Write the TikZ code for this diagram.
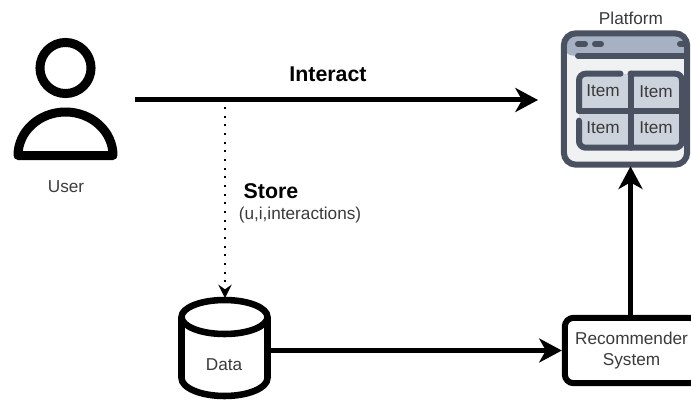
\documentclass[tikz,border=0pt]{standalone}
\usepackage{fontspec}
\setmainfont{Liberation Sans}
\usetikzlibrary{calc,arrows.meta}

\definecolor{iconline}{HTML}{4A5160}
\definecolor{iconbar}{HTML}{A6B1C4}
\definecolor{iconbody}{HTML}{F0F1F2}
\definecolor{iconcell}{HTML}{CDD3DD}
\definecolor{textgrey}{HTML}{3A3A3A}

\tikzset{
  caption/.style={text=textgrey,font=\fontsize{12.9}{15.8}\selectfont,align=center,inner sep=0pt},
  boldcaption/.style={text=black,font=\fontsize{16}{18}\selectfont\bfseries,inner sep=0pt},
  flow/.style={line width=3.75pt,-{Stealth[length=17pt,width=18pt,inset=5pt]}},
  iconstroke/.style={iconline,line width=4.5pt,line cap=round},
  userstroke/.style={black,line width=6.75pt,line join=round},
  datastroke/.style={black,line width=4.9pt}
}

\begin{document}
\begin{tikzpicture}[x=0.75pt,y=-0.75pt]
\useasboundingbox (0,0) rectangle (691,399);

\coordinate (UC) at (65.5,155.5);
\coordinate (PC) at (630.5,110.7);
\coordinate (DC) at (224.5,317);

% user
\node[circle,userstroke,draw,minimum size=38.3pt,inner sep=0pt] (head) at (65.5,68) {};
\draw[userstroke] ($(UC)+(-47.5,0)$) arc[start angle=180,end angle=360,x radius=47.5,y radius=43.5] -- cycle;
\node[caption] (user) at (66,187) {User};

% platform
\node[caption] (title) at (631,18) {Platform};
\fill[iconbody,rounded corners=9pt] (563,32) rectangle (688,166);
\fill[iconbar,rounded corners=7pt] (564,55.7) -- (564,33) -- (687,33) -- (687,55.7) -- cycle;
\node[rectangle,rounded corners=9pt,draw=iconline,line width=4.5pt,minimum width=92.5pt,minimum height=98.5pt,inner sep=0pt] (platform) at (625.5,99) {};

\draw[iconstroke] (578,55.7) -- (687,55.7);
\draw[iconstroke] (578,44) -- (585,44);
\draw[iconstroke] (595,44) -- (601,44);
\draw[iconstroke] (680,44) -- (686,44);

\fill[iconcell] ($(PC)+(-51.5,-37)$) rectangle ($(PC)+(51.5,37)$);
\draw[iconstroke,rounded corners=5pt] ($(PC)+(-10,-37)$) -- ($(PC)+(-51.5,-37)$) -- ($(PC)+(-51.5,0)$);
\draw[iconstroke,rounded corners=5pt] ($(PC)+(-51.5,10)$) -- ($(PC)+(-51.5,37)$) -- ($(PC)+(51.5,37)$) -- ($(PC)+(51.5,-37)$) -- ($(PC)+(0,-37)$);
\draw[iconstroke] ($(PC)+(-51.5,0)$) -- ($(PC)+(51.5,0)$);
\draw[iconstroke] ($(PC)+(0,-37)$) -- ($(PC)+(0,37)$);

\node[caption] (item1) at (603,91) {Item};
\node[caption] (item2) at (656,92) {Item};
\node[caption] (item3) at (603,128) {Item};
\node[caption] (item4) at (656,128) {Item};

% data and recommender
\node[rectangle,minimum width=69.75pt,minimum height=77pt,inner sep=0pt] (data) at (224.5,347) {};
\draw[datastroke] (DC) ellipse[x radius=43,y radius=17];
\draw[datastroke] ($(DC)+(-43,0)$) -- ($(DC)+(-43,61)$) arc[start angle=180,end angle=0,x radius=43,y radius=18] -- ($(DC)+(43,0)$);
\node[caption] (datalabel) at (224,365) {Data};
\node[rectangle,rounded corners=6.5pt,draw,line width=4.5pt,minimum width=100pt,minimum height=49pt,caption,inner sep=0pt] (rec) at (631.5,350.5) {Recommender\\System};

% connectors
\coordinate (Is) at (135,100);
\coordinate (Ie) at (538,100);
\coordinate (Ds) at (225,107);
\draw[flow] (Is) -- (Ie);
\draw[line width=1.5pt,dash pattern=on 1.5pt off 5pt,-{Stealth[length=10pt,width=10pt,inset=3.5pt]}] (Ds) -- (225,298);
\draw[flow] (data.east |- rec.west) -- (rec.west);
\draw[flow,shorten >=-1pt] (rec.north -| PC) -- (platform.south -| PC);

\node[boldcaption] (interact) at (328,74) {Interact};
\node[boldcaption] (store) at (271,191) {Store};
\node[caption] (tuple) at (300,215) {(u,i,interactions)};
\end{tikzpicture}
\end{document}
